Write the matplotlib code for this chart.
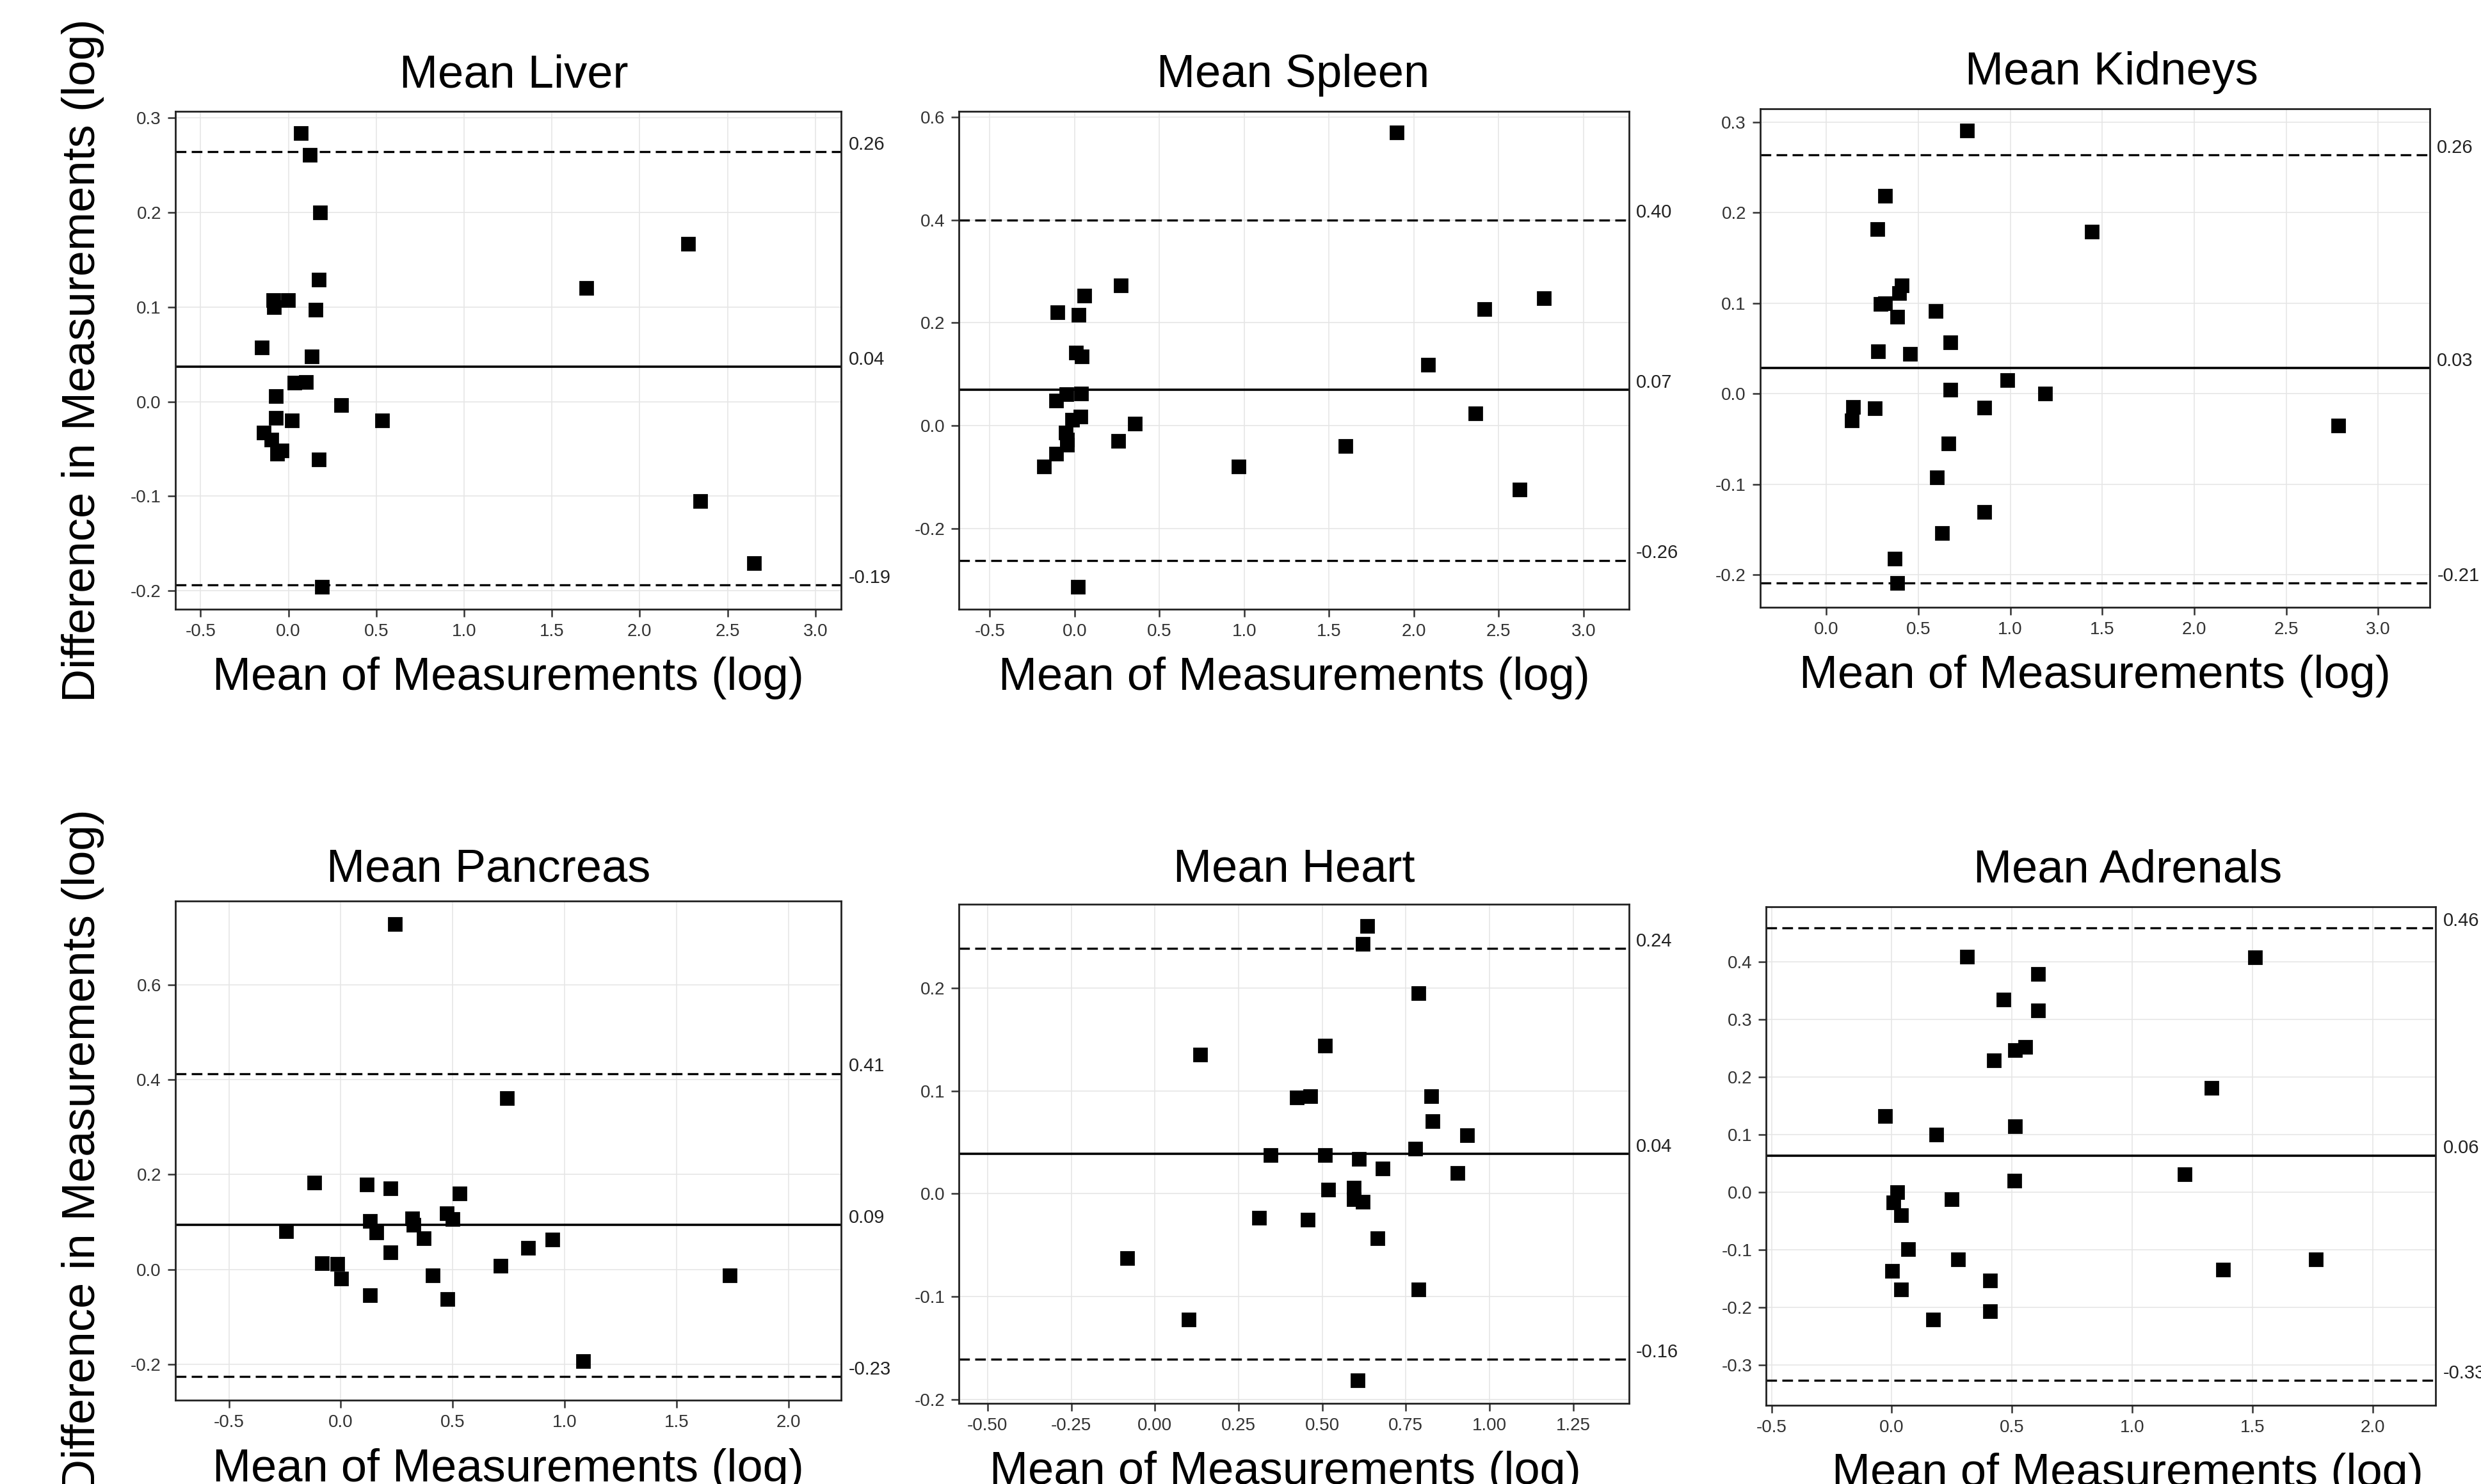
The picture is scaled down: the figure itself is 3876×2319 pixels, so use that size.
import matplotlib
matplotlib.use("Agg")
import matplotlib.pyplot as plt
import numpy as np

plt.rcParams['font.family'] = ['Liberation Sans', 'DejaVu Sans']

titles = ['Mean Liver', 'Mean Spleen', 'Mean Kidneys',
          'Mean Pancreas', 'Mean Heart', 'Mean Adrenals']

# mean of measurements (x) and difference (y) per organ
liver_x = [0.072, 0.12, 0.181, 2.275, 0.173, 1.695, -0.086, -0.003, -0.081, 0.156,
           -0.15, 0.134, 0.036, 0.098, -0.072, 0.301, 0.532, -0.072, 0.02, -0.139,
           -0.098, -0.064, -0.039, 0.173, 2.345, 2.651, 0.19]
liver_y = [0.284, 0.261, 0.200, 0.167, 0.129, 0.120, 0.107, 0.107, 0.0996, 0.097,
           0.057, 0.048, 0.020, 0.021, 0.006, -0.004, -0.020, -0.017, -0.020, -0.033,
           -0.040, -0.055, -0.052, -0.061, -0.105, -0.171, -0.196]

spleen_x = [1.899, 0.272, 0.057, 2.767, 2.416, -0.10, 0.024, 0.009, 0.042, 2.083,
            -0.048, 0.039, -0.109, 0.036, -0.015, 2.362, 0.354, -0.054, -0.045, -0.045,
            0.257, 1.597, -0.109, -0.181, 0.968, 2.622, 0.018]
spleen_y = [0.570, 0.272, 0.252, 0.247, 0.226, 0.220, 0.215, 0.142, 0.134, 0.118,
            0.061, 0.0625, 0.049, 0.018, 0.0115, 0.0237, 0.0043, -0.014, -0.027, -0.037,
            -0.030, -0.040, -0.055, -0.079, -0.079, -0.124, -0.313]

kidneys_x = [0.764, 0.320, 0.276, 1.445, 0.408, 0.394, 0.293, 0.320, 0.386, 0.594,
             0.673, 0.282, 0.454, 0.983, 0.673, 1.188, 0.145, 0.263, 0.857, 0.137,
             2.784, 0.665, 0.602, 0.857, 0.630, 0.372, 0.386]
kidneys_y = [0.291, 0.219, 0.182, 0.179, 0.120, 0.111, 0.0988, 0.100, 0.0853, 0.0914,
             0.0567, 0.0465, 0.0437, 0.0151, 0.0041, 0.0004, -0.0147, -0.0163, -0.0151, -0.0298,
             -0.0351, -0.0551, -0.0922, -0.131, -0.154, -0.182, -0.209]

pancreas_x = [0.243, 0.742, -0.118, 0.116, 0.221, 0.532, 0.473, 0.499, 0.129, 0.319,
              0.324, -0.245, 0.160, 0.370, 0.945, 0.838, 0.221, -0.085, -0.015, 0.713,
              0.002, 0.411, 1.737, 0.129, 0.477, 1.083]
pancreas_y = [0.728, 0.361, 0.183, 0.179, 0.171, 0.160, 0.118, 0.106, 0.102, 0.107,
              0.094, 0.080, 0.078, 0.066, 0.0625, 0.046, 0.0365, 0.0138, 0.0114, 0.0081,
              -0.0187, -0.0122, -0.0122, -0.054, -0.0625, -0.193]

heart_x = [0.634, 0.622, 0.787, 0.508, 0.135, 0.424, 0.464, 0.825, 0.830, 0.934,
           0.778, 0.345, 0.508, 0.609, 0.681, 0.905, 0.518, 0.594, 0.594, 0.622,
           0.311, 0.456, 0.666, -0.083, 0.787, 0.101, 0.605]
heart_y = [0.260, 0.243, 0.195, 0.144, 0.135, 0.0936, 0.0948, 0.0948, 0.0708, 0.0566,
           0.0438, 0.0378, 0.0378, 0.0337, 0.0247, 0.0202, 0.0041, 0.006, -0.0052, -0.0079,
           -0.0232, -0.0251, -0.0431, -0.0625, -0.0933, -0.122, -0.181]

adrenals_x = [0.312, 1.510, 0.609, 0.465, 0.609, 0.555, 0.513, 0.425, 1.330, -0.027,
              0.513, 0.184, 1.217, 0.509, 0.023, 0.008, 0.249, 0.040, 0.069, 0.276,
              1.763, 0.002, 1.376, 0.408, 0.040, 0.408, 0.172]
adrenals_y = [0.409, 0.408, 0.379, 0.335, 0.316, 0.253, 0.247, 0.229, 0.181, 0.133,
              0.115, 0.100, 0.031, 0.0207, 0.0, -0.0174, -0.012, -0.040, -0.099, -0.117,
              -0.117, -0.136, -0.134, -0.153, -0.169, -0.206, -0.221]

# mean difference and limits of agreement
means = [0.0367, 0.0697, 0.0282, 0.094, 0.039, 0.064]
upper = [0.264, 0.400, 0.2637, 0.413, 0.2386, 0.4595]
lower = [-0.194, -0.262, -0.2094, -0.226, -0.1607, -0.327]

xs = [liver_x, spleen_x, kidneys_x, pancreas_x, heart_x, adrenals_x]
ys = [liver_y, spleen_y, kidneys_y, pancreas_y, heart_y, adrenals_y]

# axis settings
xlims = [(-0.645, 3.148), (-0.681, 3.269), (-0.361, 3.282),
         (-0.740, 2.236), (-0.585, 1.417), (-0.523, 2.262)]
ylims = [(-0.2195, 0.307), (-0.357, 0.611), (-0.236, 0.315),
         (-0.276, 0.776), (-0.2037, 0.281), (-0.370, 0.496)]
xticks = [np.arange(-0.5, 3.01, 0.5), np.arange(-0.5, 3.01, 0.5), np.arange(0, 3.01, 0.5),
          np.arange(-0.5, 2.01, 0.5), np.arange(-0.5, 1.26, 0.25), np.arange(-0.5, 2.01, 0.5)]
yticks = [np.arange(-0.2, 0.31, 0.1), np.arange(-0.2, 0.61, 0.2), np.arange(-0.2, 0.31, 0.1),
          np.arange(-0.2, 0.61, 0.2), np.arange(-0.2, 0.21, 0.1), np.arange(-0.3, 0.41, 0.1)]
xfmt = ['%.1f', '%.1f', '%.1f', '%.1f', '%.2f', '%.1f']

positions = [[0.0706, 0.5895, 0.2685, 0.3355], [0.3866, 0.5895, 0.270, 0.3355],
             [0.7094, 0.5908, 0.270, 0.3360], [0.0706, 0.0563, 0.2685, 0.3364],
             [0.3866, 0.0543, 0.270, 0.3362], [0.7118, 0.0530, 0.270, 0.3360]]
title_x = [0.508, 0.498, 0.525, 0.47, 0.5, 0.54]
title_pad = [13.5, 13.5, 13.5, 11, 13, 14]
label_x = [0.5, 0.5, 0.5, 0.5, 0.487, 0.54]

fig = plt.figure(figsize=(19.38, 11.595), dpi=200)

for i in range(6):
    ax = fig.add_axes(positions[i])
    ax.set_xlim(xlims[i])
    ax.set_ylim(ylims[i])
    ax.set_xticks(xticks[i])
    ax.set_yticks(yticks[i])
    ax.set_xticklabels([xfmt[i] % v for v in xticks[i]])
    ax.set_yticklabels(['%.1f' % v for v in yticks[i]])
    ax.grid(True, color='#e6e6e6', linewidth=0.6)
    ax.set_axisbelow(True)
    for s in ax.spines.values():
        s.set_color('#222222')
        s.set_linewidth(1.0)
    ax.tick_params(labelsize=10, length=4.3, width=0.9, color='#333333', labelcolor='#333333')

    ax.axhline(means[i], color='black', linewidth=1.3)
    ax.axhline(upper[i], color='black', linewidth=1.2, linestyle=(0, (5, 2.5)))
    ax.axhline(lower[i], color='black', linewidth=1.2, linestyle=(0, (5, 2.5)))
    ax.plot(xs[i], ys[i], 's', color='black', markersize=7.5, linestyle='none')

    for v in (upper[i], means[i], lower[i]):
        ax.annotate('%.2f' % v, xy=(1, v), xycoords=('axes fraction', 'data'),
                    xytext=(4, 4), textcoords='offset points', va='center', ha='left',
                    fontsize=10.5, color='#222222', annotation_clip=False)

    ax.set_title(titles[i], fontsize=26, x=title_x[i], pad=title_pad[i])
    ax.set_xlabel('Mean of Measurements (log)', fontsize=26)
    ax.xaxis.set_label_coords(label_x[i], -0.095)
    if i % 3 == 0:
        ax.set_ylabel('Difference in Measurements (log)', fontsize=26)
        ax.yaxis.set_label_coords(-0.106, 0.5)

fig.savefig('out.png', dpi=200)
